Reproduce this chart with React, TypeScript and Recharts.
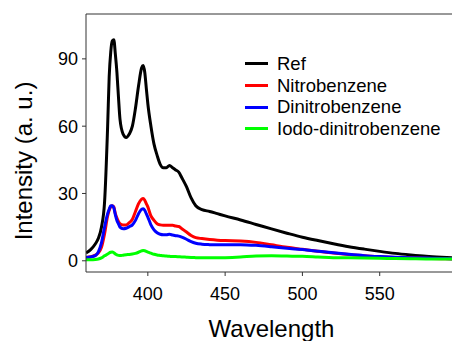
import { LineChart, Line, XAxis, YAxis, Legend, ReferenceLine, Label } from 'recharts';

const wavelengths = [
  360, 363, 366, 368, 370, 372, 374, 375, 376, 377, 378, 379, 380, 381, 382, 384, 386, 388,
  390, 392, 394, 396, 397, 398, 399, 400, 402, 404, 406, 408, 410, 412, 414, 416, 418, 420,
  422, 425, 428, 431, 435, 440, 445, 450, 460, 470, 480, 490, 500, 510, 520, 530, 540, 550,
  560, 570, 580, 590, 600,
];

const refValues = [
  3.5, 5, 7.5, 10, 15, 26, 60, 82, 93, 98, 98.5, 92, 84, 73, 63, 56.5, 55, 56.5,
  60, 68, 78, 86, 87, 84, 77, 70, 60, 52, 47, 43, 41.5, 41.5, 42.5, 41.5, 40.5, 39.5,
  37, 33, 28, 24.5, 22.8, 22, 21, 20, 18.2, 16.2, 14.2, 12.3, 10.5, 9, 7.6, 6.3, 5.2, 4.2,
  3.3, 2.6, 2.0, 1.6, 1.3,
];

const nitroValues = [
  1.5, 1.8, 2.5, 3.5, 6, 12, 20, 22.5, 24, 24.5, 24, 21, 19, 17.5, 16.5, 16, 16, 17,
  18.5, 22, 25.5, 27.5, 27.8, 27, 25.5, 24, 20, 18, 16.5, 16, 15.8, 15.8, 15.8, 15.8, 15.5, 15.3,
  14.3, 12.8, 11.3, 10.3, 9.9, 9.5, 9.2, 9.0, 8.8, 8.2, 7.1, 6.0, 5.1, 4.2, 3.5, 2.8, 2.2, 1.8,
  1.5, 1.3, 1.1, 0.9, 0.8,
];

const dinitroValues = [
  1.5, 1.7, 2.3, 4, 8, 15, 21, 23, 24.5, 24.5, 23.5, 20.5, 18, 16.5, 15, 14.3, 14.5, 15.2,
  16, 18, 21, 23, 23.2, 22.5, 21, 19.5, 16, 13.8, 12.5, 11.8, 11.6, 11.6, 11.8, 11.5, 11.2, 11,
  10.5, 9.6, 8.5, 7.8, 7.4, 7.2, 7.1, 7.1, 7.2, 6.9, 6.3, 5.6, 5.0, 4.3, 3.6, 2.9, 2.3, 1.9,
  1.6, 1.4, 1.2, 1.0, 0.9,
];

const iodoValues = [
  0.5, 0.5, 0.6, 0.8, 1.3, 2.2, 3, 3.5, 3.8, 3.9, 3.6, 3, 2.6, 2.4, 2.3, 2.5, 2.7, 2.8,
  3, 3.3, 3.8, 4.4, 4.6, 4.5, 4.2, 3.9, 3.4, 2.9, 2.6, 2.4, 2.2, 2.1, 2, 1.9, 1.9, 1.8,
  1.7, 1.6, 1.5, 1.4, 1.3, 1.3, 1.3, 1.4, 1.7, 2.1, 2.2, 2.1, 2.0, 1.7, 1.4, 1.3, 1.2, 1.1,
  1.0, 0.9, 0.8, 0.8, 0.7,
];

const xTicks = [400, 450, 500, 550];
const yTicks = [0, 30, 60, 90];

const series = [
  { key: 'ref', name: 'Ref', color: '#000000' },
  { key: 'nitro', name: 'Nitrobenzene', color: '#ff0000' },
  { key: 'dinitro', name: 'Dinitrobenzene', color: '#0000ff' },
  { key: 'iodo', name: 'Iodo-dinitrobenzene', color: '#00ff00' },
];

const data = wavelengths.map((wl, i) => ({
  wl,
  ref: refValues[i],
  nitro: nitroValues[i],
  dinitro: dinitroValues[i],
  iodo: iodoValues[i],
}));

const FONT = '"Liberation Sans", Arial, sans-serif';
const AXIS = '#333';

function LegendBox() {
  return (
    <div style={{ fontFamily: FONT, fontSize: 18.5, color: '#000' }}>
      {series.map((s) => (
        <div key={s.key} style={{ display: 'flex', alignItems: 'center', height: 21.7, whiteSpace: 'nowrap' }}>
          <span style={{ display: 'inline-block', width: 23, height: 3, background: s.color, marginRight: 9 }} />
          <span>{s.name}</span>
        </div>
      ))}
    </div>
  );
}

function YTitle(props: any) {
  const vb = props.viewBox || { x: 0, y: 0, height: 0 };
  const cx = 32;
  const cy = vb.y + vb.height / 2 + 18;
  return (
    <text
      x={cx}
      y={cy}
      transform={`rotate(-90 ${cx} ${cy})`}
      textAnchor="middle"
      fontFamily={FONT}
      fontSize={24}
      fill="#000"
    >
      Intensity (a. u.)
    </text>
  );
}

export default function App() {
  return (
    <div style={{ position: 'fixed', left: 0, top: 0, width: 452, height: 341, overflow: 'hidden', background: '#fff' }}>
      <LineChart width={470} height={341} data={data} margin={{ top: 14, right: 13, bottom: 0, left: 0 }}>
        <XAxis
          type="number"
          dataKey="wl"
          domain={[360, 600]}
          ticks={xTicks}
          allowDataOverflow
          height={69}
          stroke={AXIS}
          tickSize={4}
          tickMargin={11}
          tick={{ fill: '#000', fontSize: 18, fontFamily: FONT }}
        >
          <Label value="Wavelength" position="insideBottom" offset={4} fontSize={24} fontFamily={FONT} fill="#000" />
        </XAxis>
        <YAxis
          type="number"
          domain={[-5, 110]}
          ticks={yTicks}
          allowDataOverflow
          width={86}
          stroke={AXIS}
          tickSize={4}
          tickMargin={4}
          tick={{ fill: '#000', fontSize: 18, fontFamily: FONT }}
        >
          <Label content={<YTitle />} />
        </YAxis>
        <ReferenceLine y={110} stroke={AXIS} />
        <ReferenceLine x={600} stroke={AXIS} />
        <Legend
          layout="vertical"
          align="center"
          verticalAlign="middle"
          wrapperStyle={{ left: 245, top: 53, width: 'auto', height: 'auto' }}
          content={<LegendBox />}
        />
        {series.map((s) => (
          <Line
            key={s.key}
            type="monotone"
            dataKey={s.key}
            name={s.name}
            stroke={s.color}
            strokeWidth={3}
            dot={false}
            isAnimationActive={false}
          />
        ))}
      </LineChart>
    </div>
  );
}
